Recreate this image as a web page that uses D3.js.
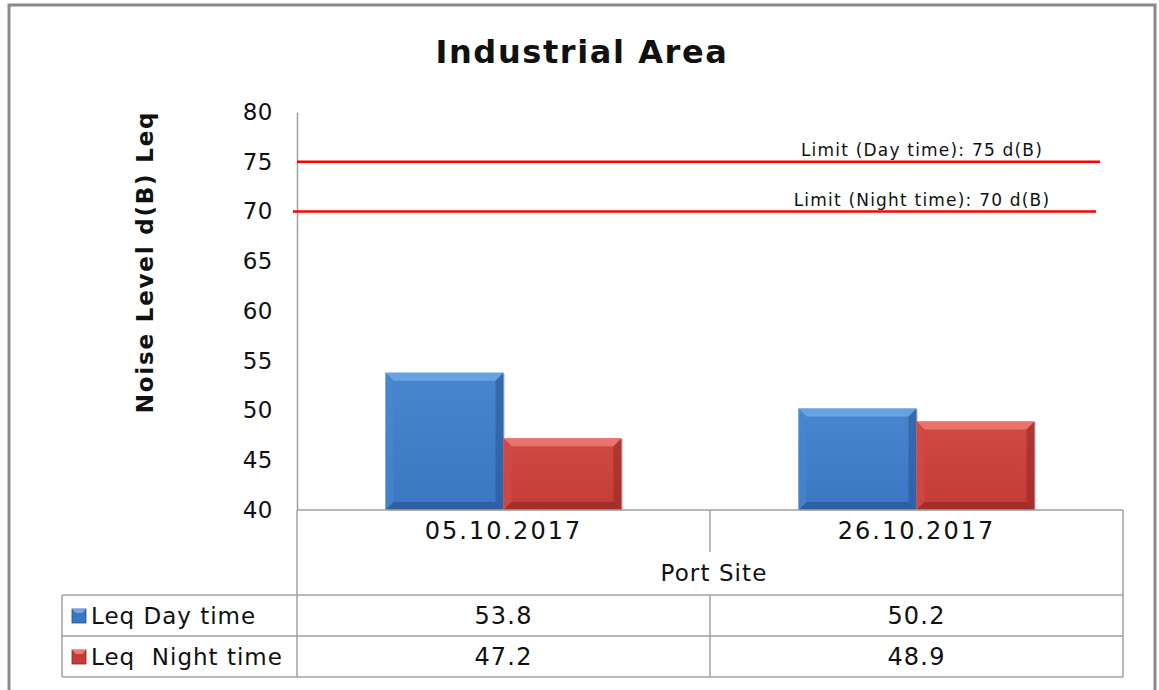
<!DOCTYPE html>
<html>
<head>
<meta charset="utf-8">
<script src="https://cdn.jsdelivr.net/npm/d3@7"></script>
<style>
  body { margin: 0; background: #fff; }
  svg text { font-family: "DejaVu Sans", Verdana, sans-serif; fill: #111; }
</style>
</head>
<body>
<svg id="chart" width="1159" height="690"></svg>
<script>
// Data
var categories = ["05.10.2017", "26.10.2017"];
var seriesNames = ["Leq Day time", "Leq  Night time"];
var dayValues = [53.8, 50.2];
var nightValues = [47.2, 48.9];
var limitValues = [75, 70];
var limitLabels = ["Limit (Day time): 75 d(B)", "Limit (Night time): 70 d(B)"];
var yTicks = [40, 45, 50, 55, 60, 65, 70, 75, 80];

var svg = d3.select("#chart");

// Outer frame
svg.append("rect")
    .attr("x", 9).attr("y", 5)
    .attr("width", 1146).attr("height", 700)
    .attr("fill", "none").attr("stroke", "#8a8a8a").attr("stroke-width", 3);

// Plot area
var plot = { left: 297, right: 1123, top: 112, bottom: 510 };

var y = d3.scaleLinear().domain([40, 80]).range([plot.bottom, plot.top]);
var x = d3.scaleBand().domain(categories).range([plot.left, plot.right]).paddingInner(0).paddingOuter(0);
var xs = d3.scaleBand().domain([0, 1]).range([0, x.bandwidth()]).paddingOuter(0.75).paddingInner(0);

// Gradient defs for bevelled bars
var defs = svg.append("defs");
var palettes = [
    { id: "blue", main: "#3a76c2", light: "#6ea7e6", dark: "#26508a", side: "#4a86cf" },
    { id: "red", main: "#c53b36", light: "#f07a74", dark: "#8a2522", side: "#d24a44" }
];
palettes.forEach(function(p) {
    var g = defs.append("linearGradient").attr("id", "g-" + p.id)
        .attr("x1", 0).attr("y1", 0).attr("x2", 0).attr("y2", 1);
    g.append("stop").attr("offset", "0%").attr("stop-color", p.side);
    g.append("stop").attr("offset", "100%").attr("stop-color", p.main);
});

// Title
svg.append("text")
    .attr("x", 582).attr("y", 63)
    .attr("text-anchor", "middle")
    .style("font-size", "32px").style("font-weight", "bold").style("letter-spacing", "1.6px")
    .text("Industrial Area");

// Y axis title
svg.append("text")
    .attr("transform", "translate(153,262) rotate(-90)")
    .attr("text-anchor", "middle")
    .style("font-size", "23px").style("font-weight", "bold").style("letter-spacing", "1.8px")
    .text("Noise Level d(B) Leq");

// Y axis
var yAxis = svg.append("g")
    .attr("transform", "translate(" + plot.left + ",0)")
    .call(d3.axisLeft(y).tickValues(yTicks).tickSize(0).tickPadding(24));
yAxis.select(".domain").attr("stroke", "#a0a0a0").attr("stroke-width", 1.5);
yAxis.selectAll("text")
    .style("font-family", "DejaVu Sans, Verdana, sans-serif")
    .style("font-size", "23px").style("letter-spacing", "0.5px").attr("fill", "#222");

// Bars
var bars = [];
categories.forEach(function(c, i) {
    bars.push({ cat: c, s: 0, v: dayValues[i], p: palettes[0] });
    bars.push({ cat: c, s: 1, v: nightValues[i], p: palettes[1] });
});

var bevel = 8;
var barG = svg.append("g").selectAll("g").data(bars).enter().append("g")
    .attr("transform", function(d) { return "translate(" + (x(d.cat) + xs(d.s)) + "," + y(d.v) + ")"; });

barG.each(function(d) {
    var g = d3.select(this);
    var w = xs.bandwidth(), h = y(40) - y(d.v);
    g.append("rect").attr("x", 1.5).attr("y", 1).attr("width", w).attr("height", h)
        .attr("fill", "#000").attr("opacity", 0.15);
    g.append("rect").attr("width", w).attr("height", h).attr("fill", "url(#g-" + d.p.id + ")");
    // top bevel
    g.append("path").attr("d", "M0,0H" + w + "L" + (w - bevel) + "," + bevel + "H" + bevel + "Z")
        .attr("fill", d.p.light).attr("opacity", 0.85);
    // left bevel
    g.append("path").attr("d", "M0,0L" + bevel + "," + bevel + "V" + (h - bevel) + "L0," + h + "Z")
        .attr("fill", d.p.side).attr("opacity", 0.7);
    // right bevel
    g.append("path").attr("d", "M" + w + ",0L" + (w - bevel) + "," + bevel + "V" + (h - bevel) + "L" + w + "," + h + "Z")
        .attr("fill", d.p.dark).attr("opacity", 0.5);
    // bottom bevel
    g.append("path").attr("d", "M0," + h + "L" + bevel + "," + (h - bevel) + "H" + (w - bevel) + "L" + w + "," + h + "Z")
        .attr("fill", d.p.dark).attr("opacity", 0.6);
});

// Limit lines
var limitLine = svg.append("g").selectAll("g").data(limitValues).enter().append("g");
limitLine.append("line")
    .attr("x1", function(d, i) { return i === 0 ? plot.left : plot.left - 4; })
    .attr("x2", function(d, i) { return i === 0 ? 1100 : 1096; })
    .attr("y1", function(d) { return y(d); })
    .attr("y2", function(d) { return y(d); })
    .attr("stroke", "#ff0000").attr("stroke-width", 2.5);
limitLine.append("text")
    .attr("x", 922)
    .attr("y", function(d) { return y(d) - 6; })
    .attr("text-anchor", "middle")
    .style("font-size", "17px").style("letter-spacing", "1.2px").attr("fill", "#222")
    .text(function(d, i) { return limitLabels[i]; });

// Data table
var tbl = svg.append("g").attr("stroke", "#a0a0a0").attr("stroke-width", 1.5);
var rowTop = 595, rowMid = 636, rowBot = 677, tableLeft = 62;
tbl.append("line").attr("x1", plot.left).attr("x2", plot.right).attr("y1", plot.bottom).attr("y2", plot.bottom);
[rowTop, rowMid, rowBot].forEach(function(yy) {
    tbl.append("line").attr("x1", tableLeft).attr("x2", plot.right).attr("y1", yy).attr("y2", yy);
});
tbl.append("line").attr("x1", tableLeft).attr("x2", tableLeft).attr("y1", rowTop).attr("y2", rowBot);
tbl.append("line").attr("x1", plot.left).attr("x2", plot.left).attr("y1", plot.bottom).attr("y2", rowBot);
tbl.append("line").attr("x1", plot.right).attr("x2", plot.right).attr("y1", plot.bottom).attr("y2", rowBot);
tbl.append("line").attr("x1", x(categories[1])).attr("x2", x(categories[1])).attr("y1", plot.bottom).attr("y2", 552);
tbl.append("line").attr("x1", x(categories[1])).attr("x2", x(categories[1])).attr("y1", rowTop).attr("y2", rowBot);

// Category labels
svg.append("g").selectAll("text").data(categories).enter().append("text")
    .attr("x", function(d) { return x(d) + x.bandwidth() / 2; })
    .attr("y", 539)
    .attr("text-anchor", "middle")
    .style("font-size", "24px").style("letter-spacing", "2px").attr("fill", "#222")
    .text(function(d) { return d; });

svg.append("text")
    .attr("x", 714).attr("y", 581)
    .attr("text-anchor", "middle")
    .style("font-size", "23px").style("letter-spacing", "1.1px").attr("fill", "#222")
    .text("Port Site");

// Table rows
var rows = [dayValues, nightValues];
var rowY = [624, 665];
rows.forEach(function(vals, r) {
    var p = palettes[r];
    svg.append("rect").attr("x", 72).attr("y", rowY[r] - 15).attr("width", 14).attr("height", 14)
        .attr("fill", p.main).attr("stroke", p.dark).attr("stroke-width", 0.8);
    svg.append("path")
        .attr("d", "M72," + (rowY[r] - 15) + "h14l-4,4h-6z")
        .attr("fill", p.light);
    svg.append("text")
        .attr("x", 91).attr("y", rowY[r])
        .style("font-size", "23px").style("letter-spacing", "1px").style("white-space", "pre").attr("fill", "#222")
        .text(seriesNames[r]);
    svg.append("g").selectAll("text").data(vals).enter().append("text")
        .attr("x", function(d, i) { return x(categories[i]) + x.bandwidth() / 2; })
        .attr("y", rowY[r])
        .attr("text-anchor", "middle")
        .style("font-size", "24px").style("letter-spacing", "1.2px").attr("fill", "#222")
        .text(function(d) { return d3.format(".1f")(d); });
});
</script>
</body>
</html>
